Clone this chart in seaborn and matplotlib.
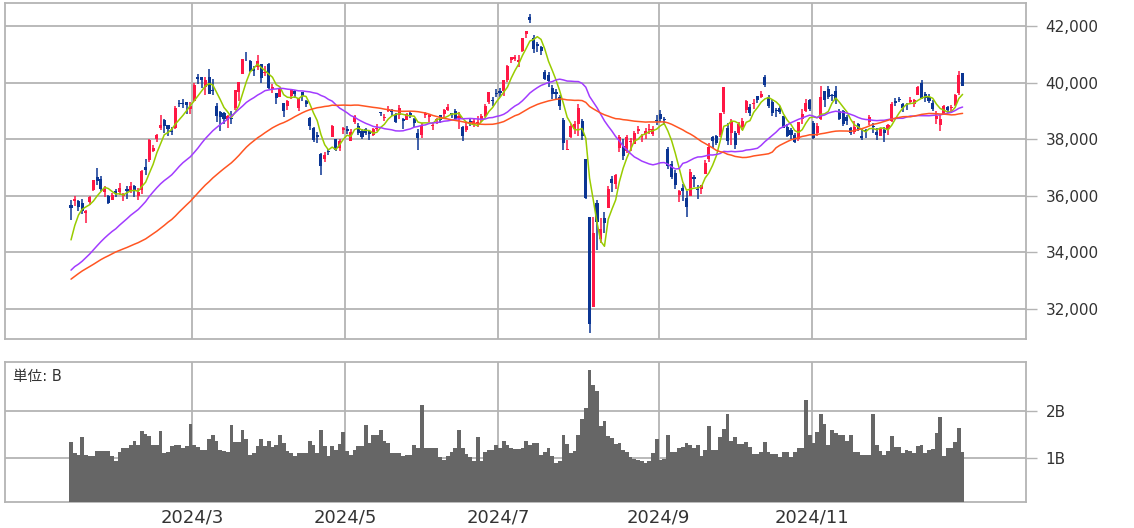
import numpy as np
import pandas as pd
import matplotlib
matplotlib.use('Agg')
import matplotlib.pyplot as plt
import seaborn as sns

# trading calendar (TSE), Jan 12 - Dec 30 2024
holidays = ['2024-02-12', '2024-02-23', '2024-03-20', '2024-04-29', '2024-05-03',
            '2024-05-06', '2024-07-15', '2024-08-12', '2024-09-16', '2024-09-23',
            '2024-10-14', '2024-11-04']

# closes before the first candle, only used to start the moving averages
warmup_close = [30991, 30697, 30859,
                31602, 31950, 32708, 32272, 32166, 32646, 32568, 32586, 32696, 33520,
                33424, 33586, 33388, 33354, 33452, 33626, 33448, 33409, 33321, 33487,
                33432, 33231, 32776, 33446, 32859, 32308, 32792, 32844, 32927, 32686,
                32971, 32759, 33220, 33676, 33141, 33170, 33255, 33306, 33682, 33540, 33464,
                33288, 33377, 33763, 34442, 35050]

open_ = [
    # Jan
    35660, 35800, 35820, 35750, 35400, 35780, 36218, 36674, 36600, 36150, 36000, 35850, 36163, 36123,
    # Feb
    36000, 36230, 36171, 36353, 36000, 36191, 37006, 37248, 37571, 38000, 38384, 38670, 38487, 38270,
    38405, 39261, 39240, 39303, 39062,
    # Mar
    39356, 40201, 40201, 39849, 40200, 39739, 39159, 38971, 38930, 38663, 38750, 39100, 39683, 40319,
    40909, 40770, 40469, 40532, 40659, 40332,
    # Apr
    40646, 39759, 39626, 39486, 39263, 39174, 39513, 39712, 39089, 39653, 39342, 38732, 38378, 38150,
    37464, 37294, 37577, 38090, 37989, 37700, 38307,
    # May
    38376, 37950, 38615, 38480, 38300, 38362, 38273, 38146, 38366, 38937, 38748, 38990, 39021, 38867,
    38862, 38718, 38682, 38935, 38721, 38200, 38147,
    # Jun
    38850, 38797, 38448, 38690, 38836, 38872, 39029, 38912, 39005, 38730, 38434, 38322, 38641, 38529,
    38542, 38717, 38822, 39329, 39395, 39617,
    # Jul
    39687, 39693, 40080, 40780, 40848, 40734, 41102, 41720, 42301, 41571, 41370, 41263, 40368, 40259,
    39822, 39675, 39480, 38689, 37624, 38075, 38364, 38544,
    # Aug
    38640, 37300, 35249, 32077, 35727, 34466, 35224, 35564, 36580, 36410, 37690, 37750, 37567, 37897,
    37841, 38292, 38060, 38170, 38321, 38180, 38692,
    # Sep
    38888, 38719, 37646, 37128, 36819, 36016, 36283, 35932, 35983, 36657, 36255, 36225, 36773, 37316,
    38060, 38112, 38130, 38950, 38392,
    # Oct
    38200, 38200, 38200, 38437, 39017, 39146, 39234, 39511, 39493, 40199, 39475, 39324, 39015, 39098,
    38811, 38425, 38330, 38150, 38000, 38697, 39011, 39370,
    # Nov
    38558, 38205, 38711, 39708, 39782, 39574, 39717, 38997, 38994, 38786, 38408, 38250, 38532, 38125,
    38319, 38590, 38470, 38238, 38122, 38313,
    # Dec
    38350, 38640, 39350, 39431, 39245, 39170, 39295, 39229, 39567, 39968, 39600, 39480, 39284, 38715,
    38500, 38893, 39129, 39108, 39208, 39646, 40325,
]

high = [
    35839, 36008, 35846, 35878, 35500, 35992, 36568, 36984, 36700, 36333, 36016, 36081, 36251, 36441,
    36086, 36343, 36469, 36384, 36260, 36911, 37287, 38010, 37795, 38188, 38865, 38700, 38489, 38427,
    39156, 39388, 39426, 39316, 39316,
    39990, 40314, 40201, 40200, 40472, 40109, 39265, 39010, 38962, 38853, 39000, 39740, 40003, 40823,
    41087, 40794, 40588, 40979, 40660, 40588,
    40697, 39932, 39633, 39773, 39263, 39400, 39788, 39722, 39470, 39676, 39398, 38789, 38423, 38269,
    37524, 37540, 37653, 38510, 37990, 38000, 38429,
    38476, 38373, 38863, 38581, 38370, 38400, 38328, 38385, 38540, 38959, 38881, 39172, 39078, 38936,
    39193, 38747, 38941, 39004, 38762, 38344, 38563,
    38950, 38885, 38602, 38750, 38847, 39058, 39242, 38928, 39064, 38966, 38477, 38613, 38703, 38742,
    38823, 38902, 39241, 39680, 39496, 39788,
    39800, 40096, 40612, 40913, 40980, 40977, 41580, 41836, 42426, 41673, 41417, 41300, 40460, 40387,
    39902, 39786, 39556, 38749, 37962, 38526, 38650, 39247,
    38700, 37300, 35250, 35250, 35849, 35208, 35418, 36348, 36695, 36779, 38158, 38013, 38140, 38048,
    38288, 38460, 38188, 38402, 38544, 38468, 38838,
    39040, 38779, 37711, 37218, 36893, 36205, 36433, 36186, 36950, 36730, 36375, 36390, 37247, 37847,
    38100, 38162, 38939, 39829, 38557,
    38700, 38278, 38618, 38740, 39384, 39241, 39403, 39511, 39712, 40257, 39562, 39418, 39095, 39186,
    38811, 38546, 38380, 38203, 38618, 39066, 39405, 39413,
    38624, 38560, 39884, 39708, 39884, 39598, 39866, 39082, 39024, 38865, 38442, 38652, 38556, 38366,
    38356, 38870, 38557, 38388, 38392, 38415,
    38534, 39300, 39438, 39480, 39264, 39266, 39494, 39429, 39868, 40091, 39649, 39582, 39376, 39010,
    38850, 39198, 39165, 39213, 39608, 40398, 40325,
]

low = [
    35153, 35623, 35454, 35371, 35044, 35689, 36152, 36367, 36157, 35948, 35705, 35837, 35950, 36018,
    35829, 35888, 36100, 35940, 35854, 36045, 36733, 37187, 37536, 37883, 38334, 38222, 38095, 38131,
    38366, 39138, 39103, 38876, 38876,
    39356, 39963, 39816, 39569, 39598, 39556, 38619, 38271, 38543, 38410, 38550, 39040, 39359, 40303,
    40748, 40357, 40244, 40445, 39971, 40218,
    39768, 39622, 39254, 39486, 38774, 39040, 39419, 39446, 38987, 39358, 39123, 38320, 37893, 37861,
    36733, 37177, 37439, 38059, 37571, 37593, 38168,
    38165, 37950, 38540, 38144, 37998, 38131, 37969, 38122, 38276, 38808, 38636, 38966, 38824, 38562,
    38708, 38367, 38672, 38747, 38447, 37617, 38054,
    38736, 38621, 38337, 38542, 38583, 38760, 38978, 38761, 38673, 38358, 37950, 38244, 38458, 38436,
    38420, 38593, 38775, 39240, 39154, 39490,
    39495, 39541, 40024, 40704, 40755, 40559, 41087, 41590, 42102, 41054, 41067, 40990, 40080, 39845,
    39428, 39382, 39027, 37611, 37611, 38051, 38187, 38115,
    37984, 35880, 31156, 32077, 34090, 34340, 34696, 35560, 36120, 36229, 37545, 37258, 37504, 37585,
    37836, 38167, 37907, 38023, 38186, 38118, 38500,
    38603, 38497, 36960, 36599, 36238, 35768, 35823, 35247, 35983, 36298, 35901, 36063, 36752, 37195,
    37676, 37797, 38087, 38900, 37808,
    37800, 37651, 38130, 38335, 38939, 38828, 39078, 39276, 39442, 39828, 39098, 38816, 38800, 38877,
    38388, 38066, 38016, 37857, 37950, 38538, 38947, 38986,
    38017, 38100, 38660, 39148, 39427, 39342, 39249, 38670, 38463, 38490, 38139, 38168, 38290, 37968,
    38026, 38503, 38211, 37983, 38095, 37907,
    38140, 38617, 39181, 39324, 38970, 39047, 39265, 39137, 39552, 39426, 39312, 39274, 39007, 38532,
    38276, 38855, 38936, 38988, 39160, 39571, 39864,
]

close = [
    35577, 35901, 35619, 35477, 35466, 35963, 36546, 36517, 36226, 36236, 35751, 36026, 36066, 36286,
    36011, 36158, 36354, 36160, 36119, 36863, 36897, 37963, 37703, 38157, 38487, 38470, 38363, 38262,
    39098, 39233, 39239, 39208, 39166,
    39910, 40109, 40097, 40090, 39598, 39688, 38820, 38797, 38695, 38807, 38707, 39740, 40003, 40815,
    40888, 40414, 40398, 40762, 40168, 40369,
    39803, 39838, 39451, 39773, 38992, 39347, 39773, 39581, 39442, 39523, 39232, 38471, 37961, 38079,
    37068, 37438, 37552, 38460, 37628, 37934, 38405,
    38274, 38236, 38835, 38202, 38073, 38229, 38179, 38356, 38385, 38920, 38787, 39069, 38946, 38617,
    39103, 38646, 38900, 38855, 38556, 38054, 38487,
    38923, 38837, 38490, 38703, 38683, 39038, 39134, 38876, 38720, 38814, 38102, 38482, 38570, 38633,
    38596, 38804, 39173, 39667, 39341, 39583,
    39631, 40074, 40580, 40913, 40912, 40780, 41580, 41831, 42224, 41190, 41275, 41097, 40126, 40063,
    39599, 39594, 39154, 37869, 37667, 38468, 38525, 39101,
    38126, 35909, 31458, 34675, 35089, 34831, 35025, 36232, 36442, 36726, 38062, 37388, 38062, 37951,
    38211, 38364, 38110, 38288, 38371, 38362, 38647,
    38700, 38686, 37047, 36657, 36391, 36159, 36159, 35619, 36833, 36581, 36203, 36380, 37155, 37723,
    37940, 37870, 38925, 39829, 37919,
    38651, 37808, 38552, 38635, 39332, 38937, 39277, 39380, 39605, 39910, 39180, 38911, 38981, 38954,
    38411, 38104, 38143, 37913, 38605, 38903, 39277, 39081,
    38053, 38474, 39480, 39381, 39500, 39533, 39376, 38721, 38536, 38642, 38220, 38415, 38352, 38026,
    38283, 38780, 38442, 38134, 38349, 38208,
    38513, 39248, 39276, 39395, 39091, 39160, 39367, 39372, 39849, 39470, 39457, 39364, 39081, 38813,
    38701, 39161, 39036, 39130, 39568, 40281, 39894,
]

# volume, billions of shares
volume = [
    1.33, 1.11, 1.07, 1.45, 1.06, 1.04, 1.04, 1.14, 1.14, 1.14, 1.14, 1.04, 0.93, 1.13, 1.21, 1.21,
    1.28, 1.37, 1.28, 1.57, 1.50, 1.46, 1.28, 1.28, 1.57, 1.11, 1.13, 1.25, 1.28, 1.28, 1.21, 1.25,
    1.72, 1.27, 1.23, 1.18, 1.18, 1.41, 1.48, 1.37, 1.18, 1.15, 1.13, 1.71, 1.34, 1.35, 1.59, 1.41,
    1.07, 1.10, 1.25, 1.41, 1.25, 1.37, 1.23, 1.28, 1.48, 1.32, 1.14, 1.11, 1.04, 1.11, 1.11, 1.11,
    1.37, 1.27, 1.11, 1.60, 1.25, 1.04, 1.25, 1.18, 1.30, 1.55, 1.14, 1.06, 1.18, 1.25, 1.25, 1.70,
    1.32, 1.48, 1.48, 1.59, 1.37, 1.32, 1.11, 1.11, 1.11, 1.04, 1.07, 1.07, 1.28, 1.21, 2.12, 1.21,
    1.21, 1.21, 1.21, 1.01, 0.96, 1.04, 1.13, 1.21, 1.59, 1.21, 1.09, 1.01, 0.93, 1.44, 0.93, 1.13,
    1.16, 1.18, 1.28, 1.21, 1.37, 1.28, 1.21, 1.20, 1.20, 1.21, 1.37, 1.28, 1.32, 1.32, 1.07, 1.13,
    1.21, 1.04, 0.89, 0.94, 1.48, 1.30, 1.11, 1.14, 1.48, 1.82, 2.06, 2.86, 2.55, 2.43, 1.67, 1.78,
    1.46, 1.43, 1.30, 1.32, 1.16, 1.13, 1.01, 0.98, 0.96, 0.93, 0.89, 0.93, 1.11, 1.41, 0.96, 0.98,
    1.48, 1.13, 1.13, 1.21, 1.23, 1.32, 1.28, 1.21, 1.28, 1.04, 1.16, 1.67, 1.16, 1.16, 1.44, 1.62,
    1.94, 1.37, 1.44, 1.30, 1.30, 1.33, 1.23, 1.09, 1.09, 1.13, 1.33, 1.13, 1.09, 1.09, 1.01, 1.13,
    1.13, 1.01, 1.13, 1.21, 1.21, 2.24, 1.48, 1.32, 1.55, 1.94, 1.72, 1.28, 1.60, 1.53, 1.48, 1.48,
    1.37, 1.48, 1.13, 1.13, 1.07, 1.07, 1.07, 1.94, 1.28, 1.15, 1.07, 1.14, 1.46, 1.23, 1.23, 1.11,
    1.18, 1.14, 1.11, 1.25, 1.28, 1.10, 1.18, 1.20, 1.53, 1.87, 1.05, 1.21, 1.21, 1.35, 1.64, 1.13,
]

tick_months = [3, 5, 7, 9, 11]
price_ticks = [32000, 34000, 36000, 38000, 40000, 42000]
volume_ticks = [1, 2]
volume_labels = ['1B', '2B']

ma_windows = [5, 25, 50]
ma_colors = ['#99cc00', '#a23cff', '#ff5522']

UP = '#ff1744'
DOWN = '#0b3593'
GRID = '#b4b4b4'
TEXT = '#333333'

days = [d for d in pd.bdate_range('2024-01-12', '2024-12-30') if d.strftime('%Y-%m-%d') not in holidays]
df = pd.DataFrame({'date': days, 'open': open_, 'high': high, 'low': low,
                   'close': close, 'volume': volume})
df['i'] = np.arange(len(df))

full_close = pd.Series(warmup_close + close, dtype=float)
for w in ma_windows:
    df[f'ma{w}'] = full_close.rolling(w).mean().iloc[len(warmup_close):].to_numpy()

month_pos = [df.loc[df.date.dt.month == m, 'i'].iloc[0] - 0.5 for m in tick_months]
month_lab = [f'2024/{m}' for m in tick_months]

sns.set_style('white')
plt.rcParams['font.family'] = ['DejaVu Sans', 'Noto Sans CJK JP']

W, H = 1134, 528
fig = plt.figure(figsize=(W / 100, H / 100), dpi=100)
ax = fig.add_axes([5 / W, (H - 339) / H, 1021 / W, 336 / H])
axv = fig.add_axes([5 / W, (H - 502) / H, 1021 / W, 140 / H])

xlim = (-17.7, 256.0)

# candles
up = df.close >= df.open
for mask, col in [(up, UP), (~up, DOWN)]:
    d = df[mask]
    ax.vlines(d.i, d.low, d.high, color=col, linewidth=1.1, zorder=3)
    body = (d.close - d.open).abs().clip(lower=25)
    ax.bar(d.i, body, bottom=np.minimum(d.open, d.close), width=0.82,
           color=col, linewidth=0, zorder=3)

for w, col in zip(ma_windows, ma_colors):
    sns.lineplot(x=df.i, y=df[f'ma{w}'], ax=ax, color=col, linewidth=1.1, zorder=4)

ax.set_xlim(*xlim)
ax.set_ylim(30940, 42810)
ax.set_yticks(price_ticks)
ax.set_yticklabels([f'{v:,}' for v in price_ticks])
ax.set_xticks(month_pos)
ax.tick_params(axis='x', length=0, labelbottom=False)
ax.yaxis.tick_right()
ax.tick_params(axis='y', length=8, width=1, color=GRID, pad=6, labelsize=11, labelcolor=TEXT)
ax.grid(True, color=GRID, linewidth=1.3)
ax.set_axisbelow(True)
ax.set_xlabel('')
ax.set_ylabel('')

# volume
sns.barplot(x=df.i, y=df.volume, ax=axv, color='#666666', width=1.0,
            saturation=1, linewidth=0, native_scale=True, zorder=3)
axv.set_xlim(*xlim)
axv.set_ylim(0.064, 3.04)
axv.set_yticks(volume_ticks)
axv.set_yticklabels(volume_labels)
axv.set_xticks(month_pos)
axv.set_xticklabels(month_lab)
axv.yaxis.tick_right()
axv.tick_params(axis='y', length=8, width=1, color=GRID, pad=6, labelsize=11, labelcolor=TEXT)
axv.tick_params(axis='x', length=0, pad=5, labelsize=13, labelcolor=TEXT)
axv.grid(True, color=GRID, linewidth=1.3)
axv.set_axisbelow(True)
axv.set_xlabel('')
axv.set_ylabel('')
axv.text(0.008, 0.9, '単位: B', transform=axv.transAxes, fontsize=10.5,
         color=TEXT, va='center', ha='left')

for a in (ax, axv):
    for s in a.spines.values():
        s.set_color(GRID)
        s.set_linewidth(1.3)

fig.savefig('out.png', dpi=100)
